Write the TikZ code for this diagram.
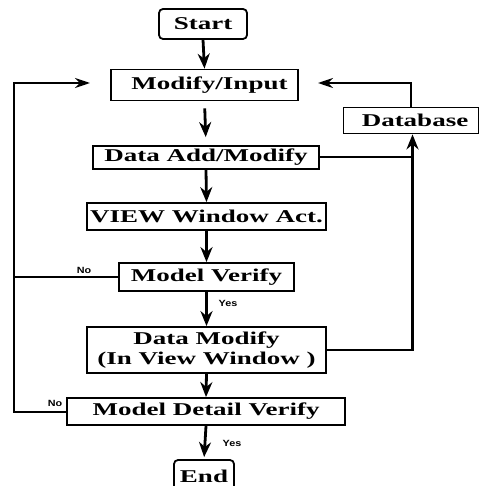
\documentclass[tikz,border=0pt]{standalone}
\usepackage{fontspec}
\setmainfont{Liberation Serif}
\newfontfamily\lblfont{Liberation Sans}
\usetikzlibrary{arrows.meta,calc}
\newcommand{\wide}[1]{\scalebox{1.5}[1]{#1}}
\newcommand{\lblw}[1]{\scalebox{1.2}[1]{#1}}
\tikzset{
  box/.style={draw, line width=1.8pt, rectangle, inner sep=0pt, align=center,
    font=\fontsize{18}{20}\selectfont\bfseries},
  term/.style={box, rounded corners=4pt},
  flow/.style={line width=2.8pt, -{Stealth[length=15pt,width=12pt]}},
  link/.style={line width=2pt},
  linkarrow/.style={line width=2pt, -{Stealth[length=15pt,width=10pt]}},
  lbl/.style={font=\lblfont\fontsize{9}{10}\selectfont\bfseries, inner sep=0pt},
}
\begin{document}
\begin{tikzpicture}[x=1pt,y=-1pt]
\useasboundingbox (0,0) rectangle (481,486);
\node[term, minimum width=88pt, minimum height=30pt] (start) at (203,24) {\wide{Start}};
\node[box, minimum width=187pt, minimum height=31pt] (mi) at (204.5,85) {\hspace*{10pt}\wide{Modify/Input}};
\node[box, minimum width=135pt, minimum height=26pt] (db) at (411,120.5) {\hspace*{8pt}\wide{Database}};
\node[box, minimum width=226pt, minimum height=23pt] (da) at (206,157.5) {\wide{Data Add/Modify}};
\node[box, minimum width=239pt, minimum height=27pt] (vw) at (206.5,216.5) {\wide{VIEW Window Act.}};
\node[box, minimum width=175pt, minimum height=28pt] (mv) at (206.5,277) {\wide{Model Verify}};
\node[box, minimum width=239pt, minimum height=46pt] (dm) at (206.5,350) {\wide{Data Modify}\\\wide{(In View Window )}};
\node[box, minimum width=278pt, minimum height=27pt] (mdv) at (206,411.5) {\wide{Model Detail Verify}};
\node[term, minimum width=60pt, minimum height=32pt] (end) at (204,476) {\wide{End}};

% labels
\node[lbl] (no1) at (84,270) {\lblw{No}};
\node[lbl] (no2) at (55,403) {\lblw{No}};
\node[lbl] (yes1) at (228,303) {\lblw{Yes}};
\node[lbl] (yes2) at (232,443) {\lblw{Yes}};

% main flow
\draw[flow] (start.south) -- (mi.north);
\draw[flow, shorten <=7pt, shorten >=8pt] (mi.south) -- (da.north);
\draw[flow] (da.south) -- (vw.north);
\draw[flow] (vw.south) -- (mv.north);
\draw[flow] (mv.south) -- (dm.north);
\draw[flow] (dm.south) -- (mdv.north);
\draw[flow, shorten >=2pt] (mdv.south) -- (end.north);

% left loop
\coordinate (lbot) at (14,411.5);
\coordinate (ltip) at (90,83);
\draw[link] (mv.west) -- (mv.west -| lbot);
\draw[linkarrow] (mdv.west) -- (lbot) |- (ltip);

% right loop
\coordinate (rtip) at (318,83);
\coordinate (rx) at (412.5,0);
\draw[link] (da.east) -- (da.east -| rx);
\draw[flow] (dm.east) -| (rx |- db.south);
\draw[linkarrow] (db.north) |- (rtip);
\end{tikzpicture}
\end{document}
